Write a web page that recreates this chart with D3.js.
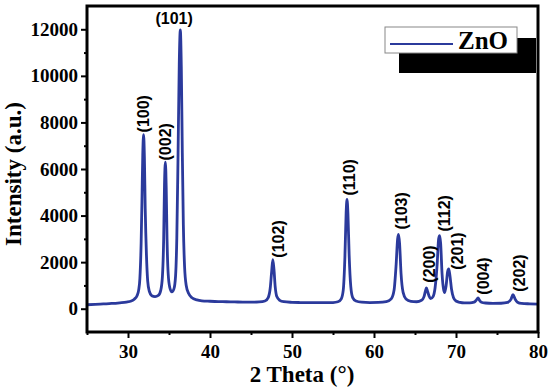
<!DOCTYPE html>
<html>
<head>
<meta charset="utf-8">
<script src="https://cdn.jsdelivr.net/npm/d3@7"></script>
<style>
  body { margin: 0; background: #fff; }
  svg { display: block; }
  .tick text { font-family: "Liberation Serif", "Times New Roman", serif; font-weight: bold; font-size: 19px; fill: #000; }
  .title { font-family: "Liberation Serif", "Times New Roman", serif; font-weight: bold; font-size: 23px; }
  .hkl { font-family: "Liberation Sans", Arial, sans-serif; font-weight: bold; font-size: 16px; }
</style>
</head>
<body>
<div id="chart"></div>
<script>
// XRD pattern: 2 theta (deg) and intensity (a.u.)
var theta = [25.0, 26.0, 27.0, 28.0, 29.0, 29.8, 30.4, 30.8, 31.1, 31.3, 31.45, 31.6, 31.7, 31.8, 31.9, 32.0, 32.1, 32.25, 32.4, 32.6,
  32.9, 33.3, 33.7, 34.0, 34.2, 34.35, 34.45, 34.56, 34.66, 34.76, 34.9, 35.1, 35.35, 35.6, 35.8, 35.95, 36.1, 36.25, 36.38, 36.5,
  36.62, 36.75, 36.9, 37.1, 37.4, 37.8, 38.4, 39.0, 40.0, 41.0, 42.0, 43.0, 44.0, 45.0, 46.0, 46.7, 47.1, 47.35, 47.52, 47.66,
  47.8, 47.95, 48.15, 48.5, 49.0, 50.0, 51.0, 52.0, 53.0, 54.0, 55.0, 55.6, 56.0, 56.25, 56.45, 56.6, 56.71, 56.82, 56.97, 57.17,
  57.4, 57.8, 58.5, 59.5, 60.5, 61.5, 62.1, 62.45, 62.7, 62.88, 63.0, 63.12, 63.3, 63.55, 63.9, 64.5, 65.2, 65.8, 66.1, 66.3,
  66.4, 66.52, 66.7, 66.9, 67.2, 67.45, 67.7, 67.88, 68.01, 68.13, 68.3, 68.5, 68.62, 68.8, 68.98, 69.11, 69.25, 69.45, 69.7, 70.0,
  70.5, 71.0, 71.7, 72.2, 72.5, 72.69, 72.85, 73.1, 73.6, 74.5, 75.5, 76.3, 76.7, 76.95, 77.2, 77.5, 78.0, 79.0, 80.0];
var intensity = [170, 185, 205, 225, 255, 285, 330, 420, 560, 800, 1300, 2800, 4600, 6600, 7480, 6500, 4300, 2300, 1200, 750,
  560, 520, 570, 800, 1400, 3000, 5300, 6290, 5200, 3000, 1500, 900, 720, 850, 1400, 3000, 6500, 10500, 11970, 10400,
  6800, 3600, 1800, 1000, 650, 470, 380, 340, 320, 305, 300, 290, 285, 280, 290, 330, 480, 900, 1600, 2110,
  1700, 950, 520, 360, 300, 275, 265, 260, 260, 258, 265, 300, 420, 800, 2200, 4100, 4690, 4100, 2300, 950,
  480, 330, 280, 265, 270, 300, 420, 800, 1900, 3000, 3190, 2800, 1500, 700, 420, 320, 300, 360, 520, 800,
  890, 760, 560, 430, 520, 900, 1900, 3000, 3140, 2800, 1500, 800, 690, 1000, 1600, 1710, 1450, 850, 470, 330,
  270, 250, 250, 280, 380, 460, 370, 280, 245, 230, 235, 270, 400, 600, 420, 280, 225, 210, 200];

// Miller index labels and where they sit (2 theta, intensity at the label foot)
var hklNames = ["(100)", "(002)", "(101)", "(102)", "(110)", "(103)", "(200)", "(112)", "(201)", "(004)", "(202)"];
var hklTheta = [31.85, 34.56, 35.63, 48.32, 56.98, 63.32, 66.73, 68.56, 70.15, 73.32, 77.77];
var hklLevel = [7570, 6366, 12215, 2194, 4860, 3398, 1118, 3312, 1677, 602, 731];
var hklUpright = [false, false, true, false, false, false, false, false, false, false, false];

var xTicks = [30, 40, 50, 60, 70, 80];
var xMinor = [25, 35, 45, 55, 65, 75];
var yTicks = [0, 2000, 4000, 6000, 8000, 10000, 12000];
var yMinor = [1000, 3000, 5000, 7000, 9000, 11000];

var legendName = "ZnO";
var lineColor = "#2b3a9c";

var margin = { top: 6, right: 12, bottom: 56, left: 87 },
    width = 550 - margin.left - margin.right,
    height = 388 - margin.top - margin.bottom;

var svg = d3.select("#chart").append("svg")
    .attr("width", 550)
    .attr("height", 388)
  .append("g")
    .attr("transform", "translate(" + margin.left + "," + margin.top + ")");

var x = d3.scaleLinear().domain([25, 80]).range([0, width]);
var y = d3.scaleLinear().domain([-1000, 13000]).range([height, 0]);

var pts = theta.map(function(t, i) { return [t, intensity[i]]; });

var line = d3.line()
    .x(function(d) { return x(d[0]); })
    .y(function(d) { return y(d[1]); })
    .curve(d3.curveMonotoneX);

svg.append("path")
    .datum(pts)
    .attr("fill", "none")
    .attr("stroke", lineColor)
    .attr("stroke-width", 2.8)
    .attr("stroke-linejoin", "round")
    .attr("d", line);

// axes
var xAxis = svg.append("g")
    .attr("transform", "translate(0," + height + ")")
    .call(d3.axisBottom(x).tickValues(xTicks).tickSize(6).tickPadding(6).tickFormat(d3.format("d")));
svg.append("g")
    .attr("transform", "translate(0," + height + ")")
    .call(d3.axisBottom(x).tickValues(xMinor).tickSize(3).tickFormat(""));

var yAxis = svg.append("g")
    .call(d3.axisLeft(y).tickValues(yTicks).tickSize(6).tickPadding(3).tickFormat(d3.format("d")));
svg.append("g")
    .call(d3.axisLeft(y).tickValues(yMinor).tickSize(3).tickFormat(""));

svg.selectAll(".domain").remove();
svg.selectAll(".tick line").attr("stroke", "#000").attr("stroke-width", 2);
xAxis.selectAll(".tick text").attr("dy", "0.75em");

// frame
svg.append("rect")
    .attr("x", 0).attr("y", 0)
    .attr("width", width).attr("height", height)
    .attr("fill", "none")
    .attr("stroke", "#000")
    .attr("stroke-width", 3);

// titles
svg.append("text")
    .attr("class", "title")
    .attr("x", 215).attr("y", height + 50)
    .attr("text-anchor", "middle")
    .text("2 Theta (\u00b0)");

svg.append("text")
    .attr("class", "title")
    .attr("transform", "translate(" + (-66) + "," + 168 + ") rotate(-90)")
    .attr("text-anchor", "middle")
    .text("Intensity (a.u.)");

// hkl labels
hklNames.forEach(function(name, i) {
  var px = x(hklTheta[i]), py = y(hklLevel[i]);
  if (hklUpright[i]) {
    svg.append("text").attr("class", "hkl")
        .attr("x", px).attr("y", py)
        .attr("text-anchor", "middle")
        .text(name);
  } else {
    svg.append("text").attr("class", "hkl")
        .attr("transform", "translate(" + px + "," + py + ") rotate(-90)")
        .attr("dy", "0.36em")
        .text(name);
  }
});

// legend with drop shadow
var lg = svg.append("g").attr("transform", "translate(" + (385 - margin.left) + "," + (27 - margin.top) + ")");
lg.append("rect")
    .attr("x", 14).attr("y", 11)
    .attr("width", 137).attr("height", 35)
    .attr("fill", "#000");
lg.append("rect")
    .attr("x", 0).attr("y", 0)
    .attr("width", 132).attr("height", 26)
    .attr("fill", "#fff")
    .attr("stroke", "#888")
    .attr("stroke-width", 1);
lg.append("line")
    .attr("x1", 5).attr("x2", 68)
    .attr("y1", 17).attr("y2", 17)
    .attr("stroke", lineColor)
    .attr("stroke-width", 2);
lg.append("text")
    .attr("class", "title")
    .attr("x", 73).attr("y", 22)
    .style("font-size", "25px")
    .text(legendName);
</script>
</body>
</html>
